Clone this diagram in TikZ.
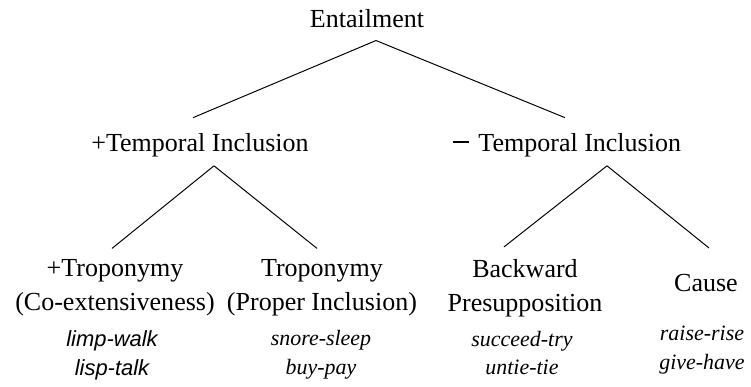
\documentclass[tikz,border=0pt]{standalone}
\usepackage{fontspec}
\setmainfont{Liberation Serif}
\newfontfamily\exsans{Liberation Sans}
\usetikzlibrary{calc}

\newcommand{\headfont}{\fontsize{18.5}{24.2}\selectfont}
\newcommand{\exfont}{\fontsize{15.6}{20.6}\selectfont\itshape}
\newcommand{\longminus}{\rule[0.33em]{0.6em}{0.08em}\hspace{0.38em}}

\begin{document}
\begin{tikzpicture}[x=0.025cm,y=-0.025cm,
        every node/.style={inner sep=0pt,align=center,font=\headfont},
        ex/.style={font=\exfont},
        branch/.style={line width=0.7pt}]
        \useasboundingbox (0,0) rectangle (751,387);

        \node[anchor=base] at (367,28) (ent) {Entailment};
        \node[anchor=base] at (200,152) (tplus) {+Temporal Inclusion};
        \node[anchor=base] at (567,152) (tminus) {\longminus Temporal Inclusion};

        \node at (115,288) (tropo) {+Troponymy\\(Co-extensiveness)};
        \node at (322,288) (proper) {Troponymy\\(Proper Inclusion)};
        \node at (525,288) (back) {Backward\\Presupposition};
        \node at (706,283) (cause) {Cause};

        \node[ex] at (112,355) (extropo) {{\exsans\itshape limp-walk}\\{\exsans\itshape lisp-talk}};
        \node[ex] at (321,355) (exproper) {snore-sleep\\buy-pay};
        \node[ex] at (522,353) (exback) {succeed-try\\untie-tie};
        \node[ex] at (702,350) (excause) {raise-rise\\give-have};

        \draw[branch] ($(ent.south)+(9,12)$) -- ($(tplus.north)+(-7,-16)$);
        \draw[branch] ($(ent.south)+(9,12)$) -- ($(tminus.north)+(-2,-16)$);
        \draw[branch] ($(tplus.south)+(14,8)$) -- ($(tropo.north)+(-3,-11)$);
        \draw[branch] ($(tplus.south)+(14,8)$) -- ($(proper.north)+(-5,-11)$);
        \draw[branch] ($(tminus.south)+(40,8)$) -- ($(back.north)+(-21,-12)$);
        \draw[branch] ($(tminus.south)+(40,8)$) -- ($(cause.north)+(3,-26)$);
    \end{tikzpicture}
\end{document}
